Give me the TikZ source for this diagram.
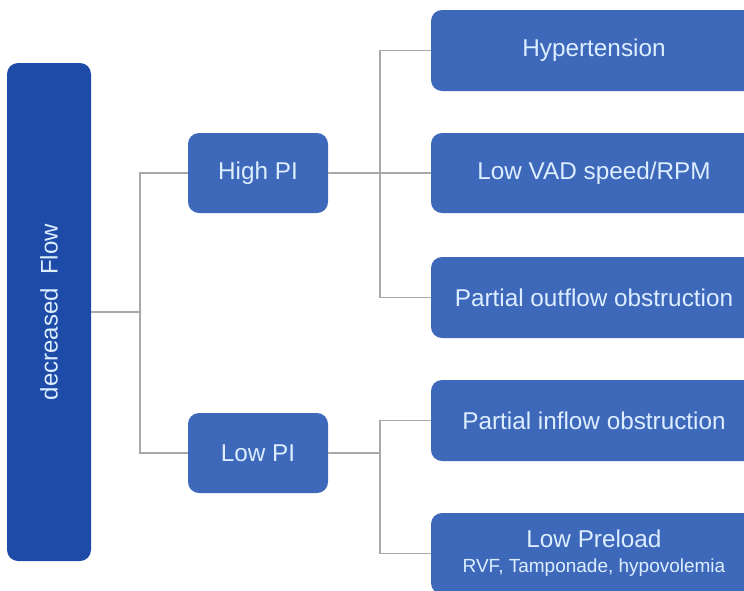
\documentclass[tikz,border=0pt]{standalone}
\usepackage{fontspec}
\setmainfont{Liberation Sans}
\begin{document}
\definecolor{rootblue}{HTML}{1F4BA8}
\definecolor{boxblue}{HTML}{3E68BA}
\definecolor{labeltext}{HTML}{DCEEFF}
\definecolor{linkgray}{HTML}{A8A8A8}
\begin{tikzpicture}[x=1pt,y=-1pt,
  box/.style={draw=none,fill=boxblue,rounded corners=11pt,text=labeltext,
    font=\fontsize{24.3}{27}\selectfont,align=center,inner sep=0pt},
  rootbox/.style={box,fill=rootblue},
  link/.style={draw=linkgray,line width=1.4pt}]
\useasboundingbox (0,0) rectangle (744,590);
\clip (0,0) rectangle (744,590);
\fill[white] (0,0) rectangle (744,590);

% root of the tree
\node[rootbox,minimum width=84pt,minimum height=498pt] (root) at (49,312) {};
\node[text=labeltext,font=\fontsize{24}{27}\selectfont,rotate=90] at (root.center) {decreased~~Flow};

% pulsatility index branches
\node[box,minimum width=140pt,minimum height=80pt] (high) at (258,173) {High PI};
\node[box,minimum width=140pt,minimum height=80pt] (low) at (258,453) {Low PI};

% causes
\node[box,minimum width=326pt,minimum height=81pt] (hyp) at (594,50.5) {Hypertension};
\node[box,minimum width=326pt,minimum height=80pt] (vad) at (594,173) {Low VAD speed/RPM};
\node[box,minimum width=326pt,minimum height=81pt] (outf) at (594,297.5) {Partial outflow obstruction};
\node[box,minimum width=326pt,minimum height=81pt] (inf) at (594,420.5) {Partial inflow obstruction};
\node[box,minimum width=326pt,minimum height=81pt] (pre) at (594,553.5)
  {\raisebox{2pt}{Low Preload}\\[-4pt]{\fontsize{19}{21}\selectfont RVF, Tamponade, hypovolemia}};

% connectors
\coordinate (j1) at (140,312);
\coordinate (j2) at (380,173);
\coordinate (j3) at (380,453);
\draw[link] (root.east |- j1) -- (j1);
\draw[link] (j1) |- (high.west);
\draw[link] (j1) |- (low.west);
\draw[link] (high.east) -- (j2);
\draw[link] (j2) |- (hyp.west);
\draw[link] (j2) |- (vad.west);
\draw[link] (j2) |- (outf.west);
\draw[link] (low.east) -- (j3);
\draw[link] (j3) |- (inf.west);
\draw[link] (j3) |- (pre.west);
\end{tikzpicture}
\end{document}
